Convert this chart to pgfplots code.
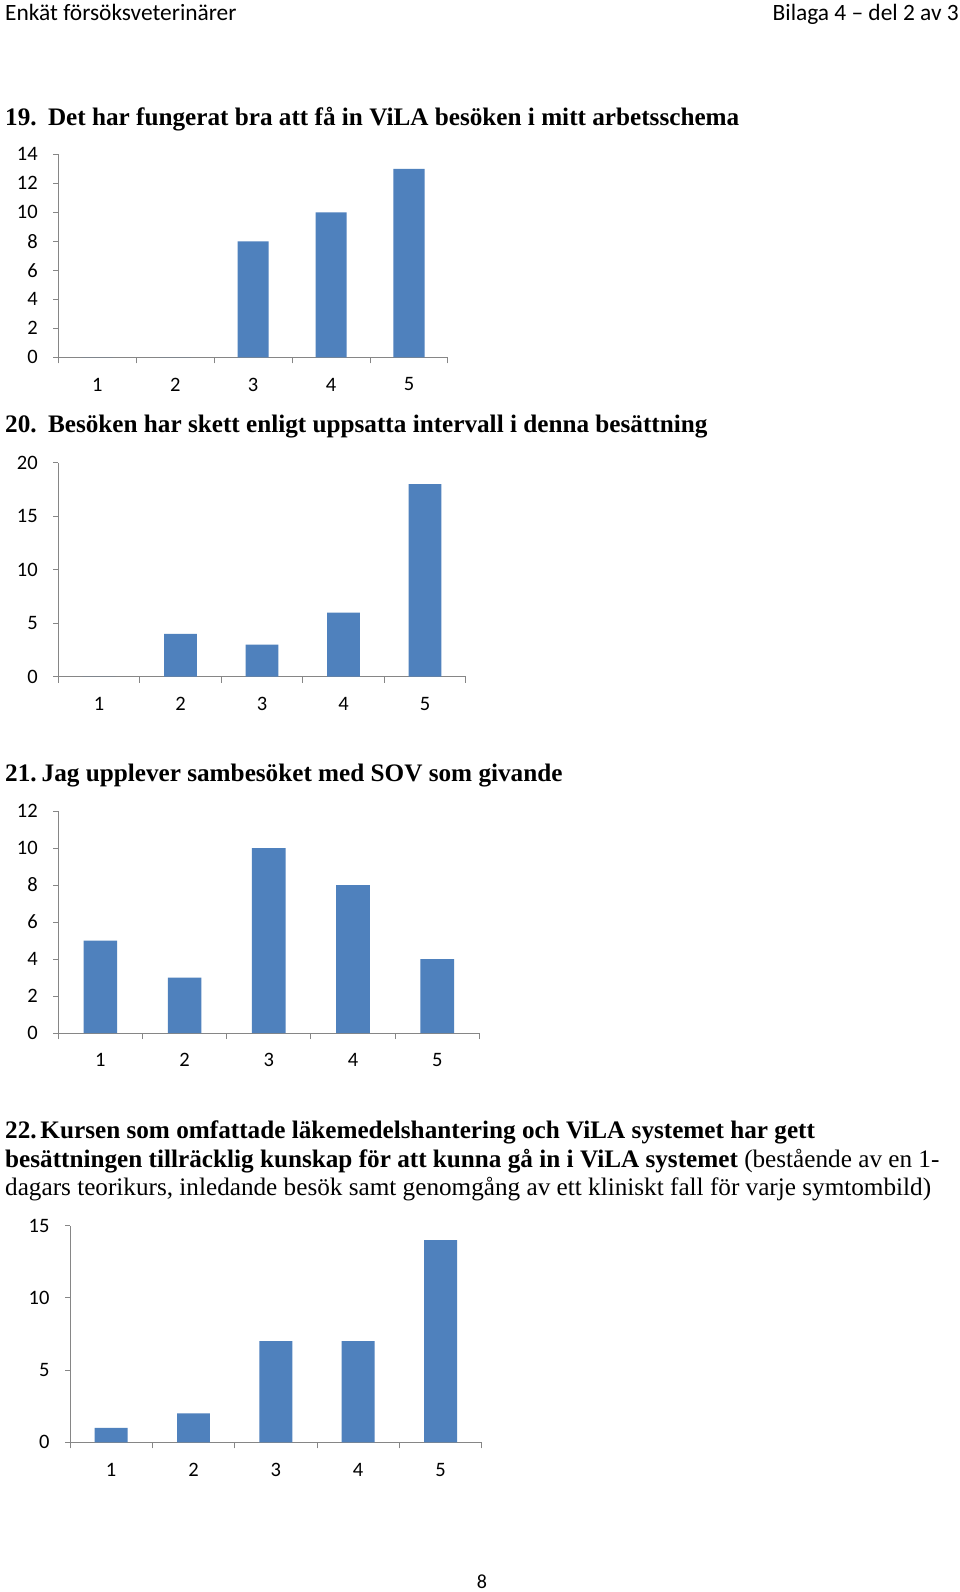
\documentclass[border=0pt]{standalone}
\usepackage{fontspec}
\setmainfont{Liberation Serif}
\newfontfamily\calfont{Carlito}
\usepackage{pgfplots}
\pgfplotsset{compat=1.18}
\definecolor{barblue}{HTML}{4F81BD}
\definecolor{axgray}{HTML}{868686}
\pgfplotsset{
  vila/.style={
    scale only axis,
    ybar, bar width=0.4,
    xmin=0.5, xmax=5.5, ymin=0,
    axis x line*=bottom, axis y line*=left,
    axis line style={draw=axgray, line width=1pt},
    tick align=outside,
    major tick length=5pt, minor tick length=6pt,
    xtick={1,2,3,4,5},
    xticklabels={1,2,3,4,5},
    minor xtick={0.5,1.5,2.5,3.5,4.5,5.5},
    xtick style={draw=none},
    minor x tick style={draw=axgray, line width=1pt},
    ytick style={draw=axgray, line width=1pt},
    /pgf/number format/assume math mode=true,
    tick label style={font=\calfont\fontsize{20.5}{20.5}\selectfont, text=black},
    xticklabel style={yshift=-12pt},
    yticklabel style={xshift=-12pt},
    clip=false,
  },
  vilaplot/.style={fill=barblue, draw=none},
}
\begin{document}
\begin{tikzpicture}[x=1pt,y=1pt]
\fill[white] (0pt,0pt) rectangle (960pt,-1592pt);
\useasboundingbox (0pt,0pt) rectangle (960pt,-1592pt);
% header
\node[anchor=base west, inner sep=0, font=\calfont\fontsize{23.4}{27}\selectfont] at (5pt,-21pt) {Enkät försöksveterinärer};
\node[anchor=base east, inner sep=0, font=\calfont\fontsize{23.4}{27}\selectfont] at (959pt,-21pt) {Bilaga 4 – del 2 av 3};
% titles
\node[anchor=base west, inner sep=0, font=\bfseries\fontsize{25.2}{30}\selectfont] at (5pt,-125pt) {19.\hspace{0.45em}Det har fungerat bra att få in ViLA besöken i mitt arbetsschema};
\node[anchor=base west, inner sep=0, font=\bfseries\fontsize{25.2}{30}\selectfont] at (5pt,-432pt) {20.\hspace{0.45em}Besöken har skett enligt uppsatta intervall i denna besättning};
\node[anchor=base west, inner sep=0, font=\bfseries\fontsize{25.2}{30}\selectfont] at (5pt,-781pt) {21.\hspace{0.2em}Jag upplever sambesöket med SOV som givande};
\node[anchor=base west, inner sep=0, font=\bfseries\fontsize{25.2}{30}\selectfont] at (5pt,-1138pt) {22.\hspace{0.15em}Kursen som omfattade läkemedelshantering och ViLA systemet har gett};
\node[anchor=base west, inner sep=0, font=\fontsize{25.2}{30}\selectfont] at (5pt,-1167pt) {\textbf{besättningen tillräcklig kunskap för att kunna gå in i ViLA systemet} (bestående av en 1-};
\node[anchor=base west, inner sep=0, font=\fontsize{25.2}{30}\selectfont] at (5pt,-1195pt) {dagars teorikurs, inledande besök samt genomgång av ett kliniskt fall för varje symtombild)};
% page number
\node[anchor=base, inner sep=0, font=\calfont\fontsize{20}{20}\selectfont] at (482pt,-1588pt) {8};

% chart 19
\begin{axis}[vila, at={(58.3pt,-357.3pt)}, anchor=south west, width=389.7pt, height=203pt,
  ymax=14, ytick={0,2,...,14}]
\addplot[vilaplot] coordinates {(1,0) (2,0) (3,8) (4,10) (5,13)};
\end{axis}
% chart 20
\begin{axis}[vila, at={(58.3pt,-676.7pt)}, anchor=south west, width=407.4pt, height=214pt,
  ymax=20, ytick={0,5,...,20}]
\addplot[vilaplot] coordinates {(1,0) (2,4) (3,3) (4,6) (5,18)};
\end{axis}
% chart 21
\begin{axis}[vila, at={(58.3pt,-1033pt)}, anchor=south west, width=421pt, height=222pt,
  ymax=12, ytick={0,2,...,12}]
\addplot[vilaplot] coordinates {(1,5) (2,3) (3,10) (4,8) (5,4)};
\end{axis}
% chart 22
\begin{axis}[vila, at={(70pt,-1442.3pt)}, anchor=south west, width=411.7pt, height=216.7pt,
  ymax=15, ytick={0,5,...,15}]
\addplot[vilaplot] coordinates {(1,1) (2,2) (3,7) (4,7) (5,14)};
\end{axis}
\end{tikzpicture}
\end{document}
